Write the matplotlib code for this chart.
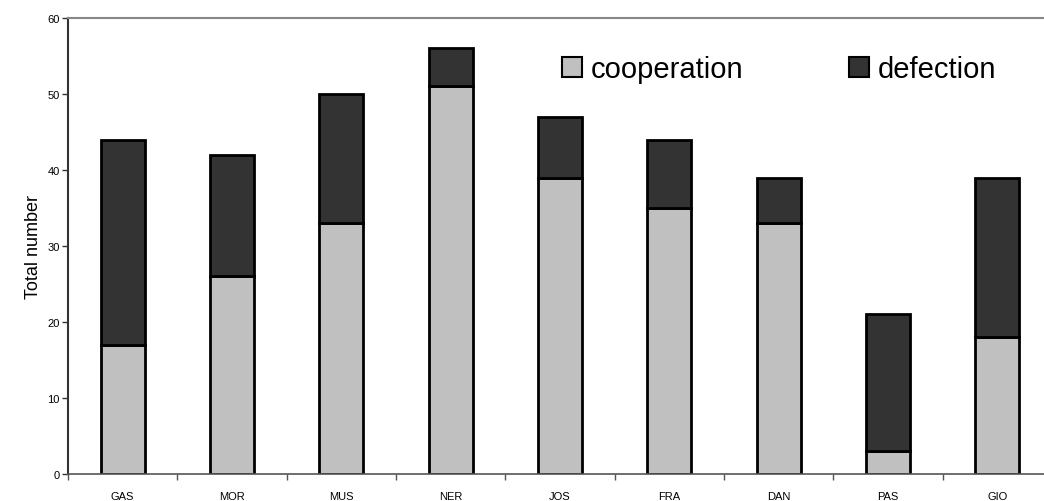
import matplotlib.pyplot as plt
from matplotlib.patches import Patch

players = ['GAS', 'MOR', 'MUS', 'NER', 'JOS', 'FRA', 'DAN', 'PAS', 'GIO']
cooperation = [17, 26, 33, 51, 39, 35, 33, 3, 18]
defection = [27, 16, 17, 5, 8, 9, 6, 18, 21]

plt.rcParams['font.family'] = ['Liberation Sans', 'DejaVu Sans']

fig = plt.figure(figsize=(10.44, 5.02), dpi=100)
# axes runs past the right edge, as in the cropped original
ax = fig.add_axes([68 / 1044, 27 / 502, 984 / 1044, 456 / 502])

x = list(range(len(players)))
ax.bar(x, cooperation, width=0.4, color='#c0c0c0', edgecolor='black', linewidth=2)
ax.bar(x, defection, width=0.4, bottom=cooperation, color='#333333',
       edgecolor='black', linewidth=2)

ax.set_xlim(-0.5, len(players) - 0.5)
ax.set_ylim(0, 60)
ax.set_yticks(range(0, 61, 10))
ax.set_xticks(x)
ax.set_xticklabels(players, fontsize=8)
ax.tick_params(axis='x', length=0, pad=12)
ax.set_xticks([i + 0.5 for i in range(-1, len(players))], minor=True)
ax.tick_params(axis='x', which='minor', length=4, width=1, color='#555555', direction='out')
ax.tick_params(axis='y', labelsize=8, length=4, width=1, color='#333333', pad=2)

ax.spines['left'].set_color('#333333')
ax.spines['left'].set_linewidth(1.5)
ax.spines['bottom'].set_color('#555555')
ax.spines['bottom'].set_linewidth(1.2)
ax.spines['top'].set_color('#888888')
ax.spines['top'].set_linewidth(1.5)
ax.spines['right'].set_visible(False)

ax.set_ylabel('Total number', fontsize=13, labelpad=4)

handles = [Patch(facecolor='#c0c0c0', edgecolor='black', linewidth=1.5, label='cooperation'),
           Patch(facecolor='#333333', edgecolor='black', linewidth=1.5, label='defection')]
ax.legend(handles=handles, loc='center left', bbox_to_anchor=(562 / 1044, 1 - 70 / 502),
          bbox_transform=fig.transFigure, ncol=2, frameon=False, fontsize=21,
          handlelength=0.7, handleheight=0.7, handletextpad=0.3, columnspacing=3.6,
          borderpad=0, borderaxespad=0)

plt.savefig('out.png', dpi=100)
